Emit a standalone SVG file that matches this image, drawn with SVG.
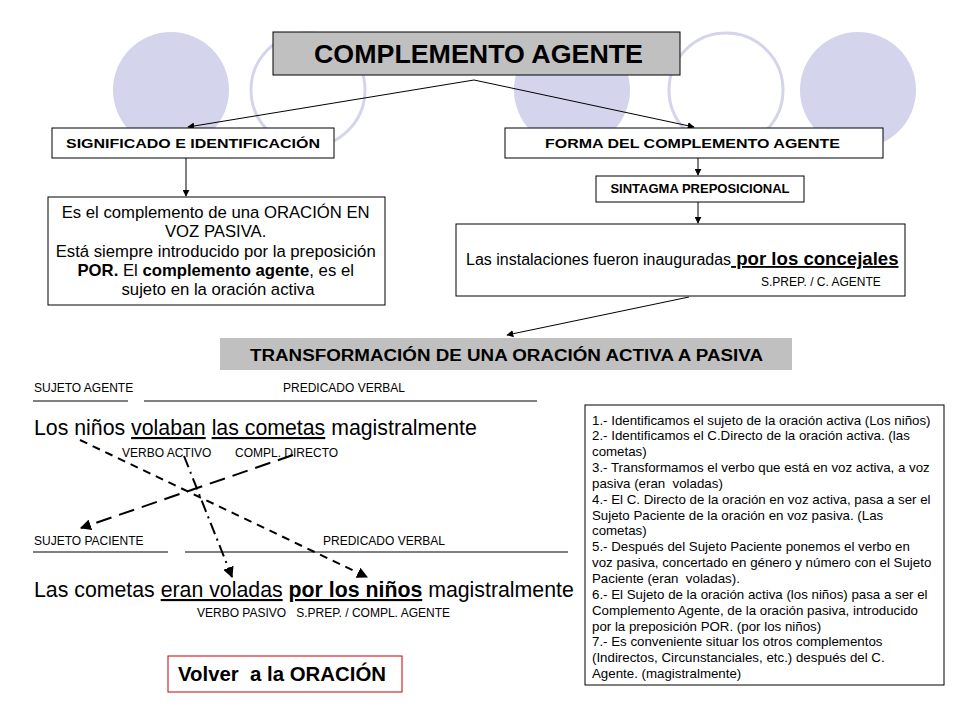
<svg xmlns="http://www.w3.org/2000/svg" width="960" height="720" viewBox="0 0 960 720">
<defs>
<marker id="ah" viewBox="0 0 10 10" refX="9" refY="5" markerWidth="7" markerHeight="7" markerUnits="userSpaceOnUse" orient="auto">
<path d="M0,0 L10,5 L0,10 z" fill="#000"/>
</marker>
<marker id="ahb" viewBox="0 0 10 10" refX="9" refY="5" markerWidth="11" markerHeight="11" markerUnits="userSpaceOnUse" orient="auto">
<path d="M0,0 L10,5 L0,10 z" fill="#000"/>
</marker>
</defs>
<style>
text{font-family:"Liberation Sans",Arial,sans-serif;fill:#000}
.box{fill:#fff;stroke:#000;stroke-width:1}
.hd{font-weight:bold}
.sm{font-size:12px}
.big{font-size:21.3px}
.u{text-decoration:underline}
.b{font-weight:bold}
.c{text-anchor:middle}
.conn{stroke:#000;stroke-width:1;fill:none;marker-end:url(#ah)}
.dsh{stroke:#000;stroke-width:2;fill:none;marker-end:url(#ahb)}
.rule{stroke:#000;stroke-width:1}
.st{font-size:13.3px}
</style>
<rect width="960" height="720" fill="#fff"/>
<g id="background">
<circle cx="171" cy="90" r="58" fill="#d4d4ec"/>
<circle cx="308" cy="90" r="57" fill="#fff" stroke="#d4d4ec" stroke-width="3"/>
<circle cx="572" cy="90" r="58" fill="#d4d4ec"/>
<circle cx="726" cy="90" r="57" fill="#fff" stroke="#d4d4ec" stroke-width="3"/>
<circle cx="858" cy="90" r="58" fill="#d4d4ec"/>
</g>
<g id="connectors">
<line class="conn" x1="474" y1="80" x2="188" y2="127"/>
<line class="conn" x1="474" y1="80" x2="694" y2="127"/>
<line class="conn" x1="186" y1="158" x2="186" y2="196"/>
<line class="conn" x1="698" y1="158" x2="698" y2="175"/>
<line class="conn" x1="698" y1="202" x2="698" y2="223"/>
<line class="conn" x1="689" y1="297" x2="507" y2="335"/>
<line class="dsh" x1="80" y1="440" x2="367" y2="577" stroke-dasharray="8,6"/>
<line class="dsh" x1="293" y1="455" x2="81" y2="528" stroke-dasharray="16,8"/>
<line class="dsh" x1="184" y1="456" x2="232" y2="577" stroke-dasharray="12,5,2,5"/>
</g>
<g id="title">
<rect x="273" y="32" width="407" height="43" fill="#c0c0c0" stroke="#000"/>
<text x="314" y="63" class="hd" font-size="25" textLength="329" lengthAdjust="spacingAndGlyphs">COMPLEMENTO AGENTE</text>
</g>
<g id="significado">
<rect class="box" x="52" y="128" width="282" height="30"/>
<text x="66" y="148" class="hd" font-size="13" textLength="254" lengthAdjust="spacingAndGlyphs">SIGNIFICADO E IDENTIFICACIÓN</text>
</g>
<g id="forma">
<rect class="box" x="505" y="128" width="378" height="30"/>
<text x="545" y="148" class="hd" font-size="13" textLength="295" lengthAdjust="spacingAndGlyphs">FORMA DEL COMPLEMENTO AGENTE</text>
</g>
<g id="definicion">
<rect class="box" x="48" y="197" width="337" height="108"/>
<text class="c" font-size="16.7">
<tspan x="218" y="218">Es el complemento de una ORACIÓN EN</tspan>
<tspan x="218" y="237.3">VOZ PASIVA.</tspan>
<tspan x="218" y="256.6">Está siempre introducido por la preposición</tspan>
<tspan x="218" y="275.9"><tspan class="b">POR.</tspan> El <tspan class="b">complemento agente</tspan>, es el</tspan>
<tspan x="218" y="295.2">sujeto en la oración activa</tspan>
</text>
</g>
<g id="sintagma">
<rect class="box" x="596" y="176" width="208" height="26"/>
<text x="700" y="193" class="hd c" font-size="13">SINTAGMA PREPOSICIONAL</text>
</g>
<g id="ejemplo">
<rect class="box" x="456" y="224" width="449" height="72"/>
<text x="466" y="265" font-size="16">Las instalaciones fueron inauguradas<tspan class="b u" font-size="18.6"> por los concejales</tspan></text>
<text x="761" y="286" class="sm">S.PREP. / C. AGENTE</text>
</g>
<g id="transformacion">
<rect x="220" y="338" width="572" height="32" fill="#c0c0c0"/>
<text x="250" y="361" class="hd" font-size="16" textLength="513" lengthAdjust="spacingAndGlyphs">TRANSFORMACIÓN DE UNA ORACIÓN  ACTIVA A PASIVA</text>
</g>
<g id="activa">
<text x="34" y="392" class="sm">SUJETO AGENTE</text>
<text x="283" y="392" class="sm">PREDICADO VERBAL</text>
<line class="rule" x1="33" y1="401" x2="128" y2="401"/>
<line class="rule" x1="144" y1="401" x2="537" y2="401"/>
<text x="34" y="435" class="big">Los niños <tspan class="u">volaban</tspan> <tspan class="u">las cometas</tspan> magistralmente</text>
<text x="122" y="457" class="sm">VERBO ACTIVO</text>
<text x="235" y="457" class="sm">COMPL. DIRECTO</text>
</g>
<g id="pasiva">
<text x="34" y="545" class="sm">SUJETO PACIENTE</text>
<text x="323" y="545" class="sm">PREDICADO VERBAL</text>
<line class="rule" x1="33" y1="552" x2="168" y2="552"/>
<line class="rule" x1="185" y1="552" x2="568" y2="552"/>
<text x="34" y="597" class="big">Las cometas <tspan class="u">eran voladas</tspan> <tspan class="u b">por los niños</tspan> magistralmente</text>
<text x="197" y="617" class="sm" xml:space="preserve">VERBO PASIVO   S.PREP. / COMPL. AGENTE</text>
</g>
<g id="pasos">
<rect class="box" x="585" y="405" width="359" height="280"/>
<text class="st" xml:space="preserve">
<tspan x="592" y="424.5">1.- Identificamos el sujeto de la oración activa (Los niños)</tspan>
<tspan x="592" y="440.3">2.- Identificamos el C.Directo de la oración activa. (las</tspan>
<tspan x="592" y="456.2">cometas)</tspan>
<tspan x="592" y="472">3.- Transformamos el verbo que está en voz activa, a voz</tspan>
<tspan x="592" y="487.9">pasiva (eran  voladas)</tspan>
<tspan x="592" y="503.7">4.- El C. Directo de la oración en voz activa, pasa a ser el</tspan>
<tspan x="592" y="519.6">Sujeto Paciente de la oración en voz pasiva. (Las</tspan>
<tspan x="592" y="535.4">cometas)</tspan>
<tspan x="592" y="551.3">5.- Después del Sujeto Paciente ponemos el verbo en</tspan>
<tspan x="592" y="567.1">voz pasiva, concertado en género y número con el Sujeto</tspan>
<tspan x="592" y="583">Paciente (eran  voladas).</tspan>
<tspan x="592" y="598.8">6.- El Sujeto de la oración activa (los niños) pasa a ser el</tspan>
<tspan x="592" y="614.7">Complemento Agente, de la oración pasiva, introducido</tspan>
<tspan x="592" y="630.5">por la preposición POR. (por los niños)</tspan>
<tspan x="592" y="646.4">7.- Es conveniente situar los otros complementos</tspan>
<tspan x="592" y="662.2">(Indirectos, Circunstanciales, etc.) después del C.</tspan>
<tspan x="592" y="678.1">Agente. (magistralmente)</tspan>
</text>
</g>
<g id="volver">
<rect x="168" y="656" width="234" height="36" fill="#fff" stroke="#cc0000" stroke-width="1"/>
<text x="178" y="681" class="b" font-size="20" textLength="208" lengthAdjust="spacingAndGlyphs" xml:space="preserve">Volver  a la ORACIÓN</text>
</g>
</svg>
